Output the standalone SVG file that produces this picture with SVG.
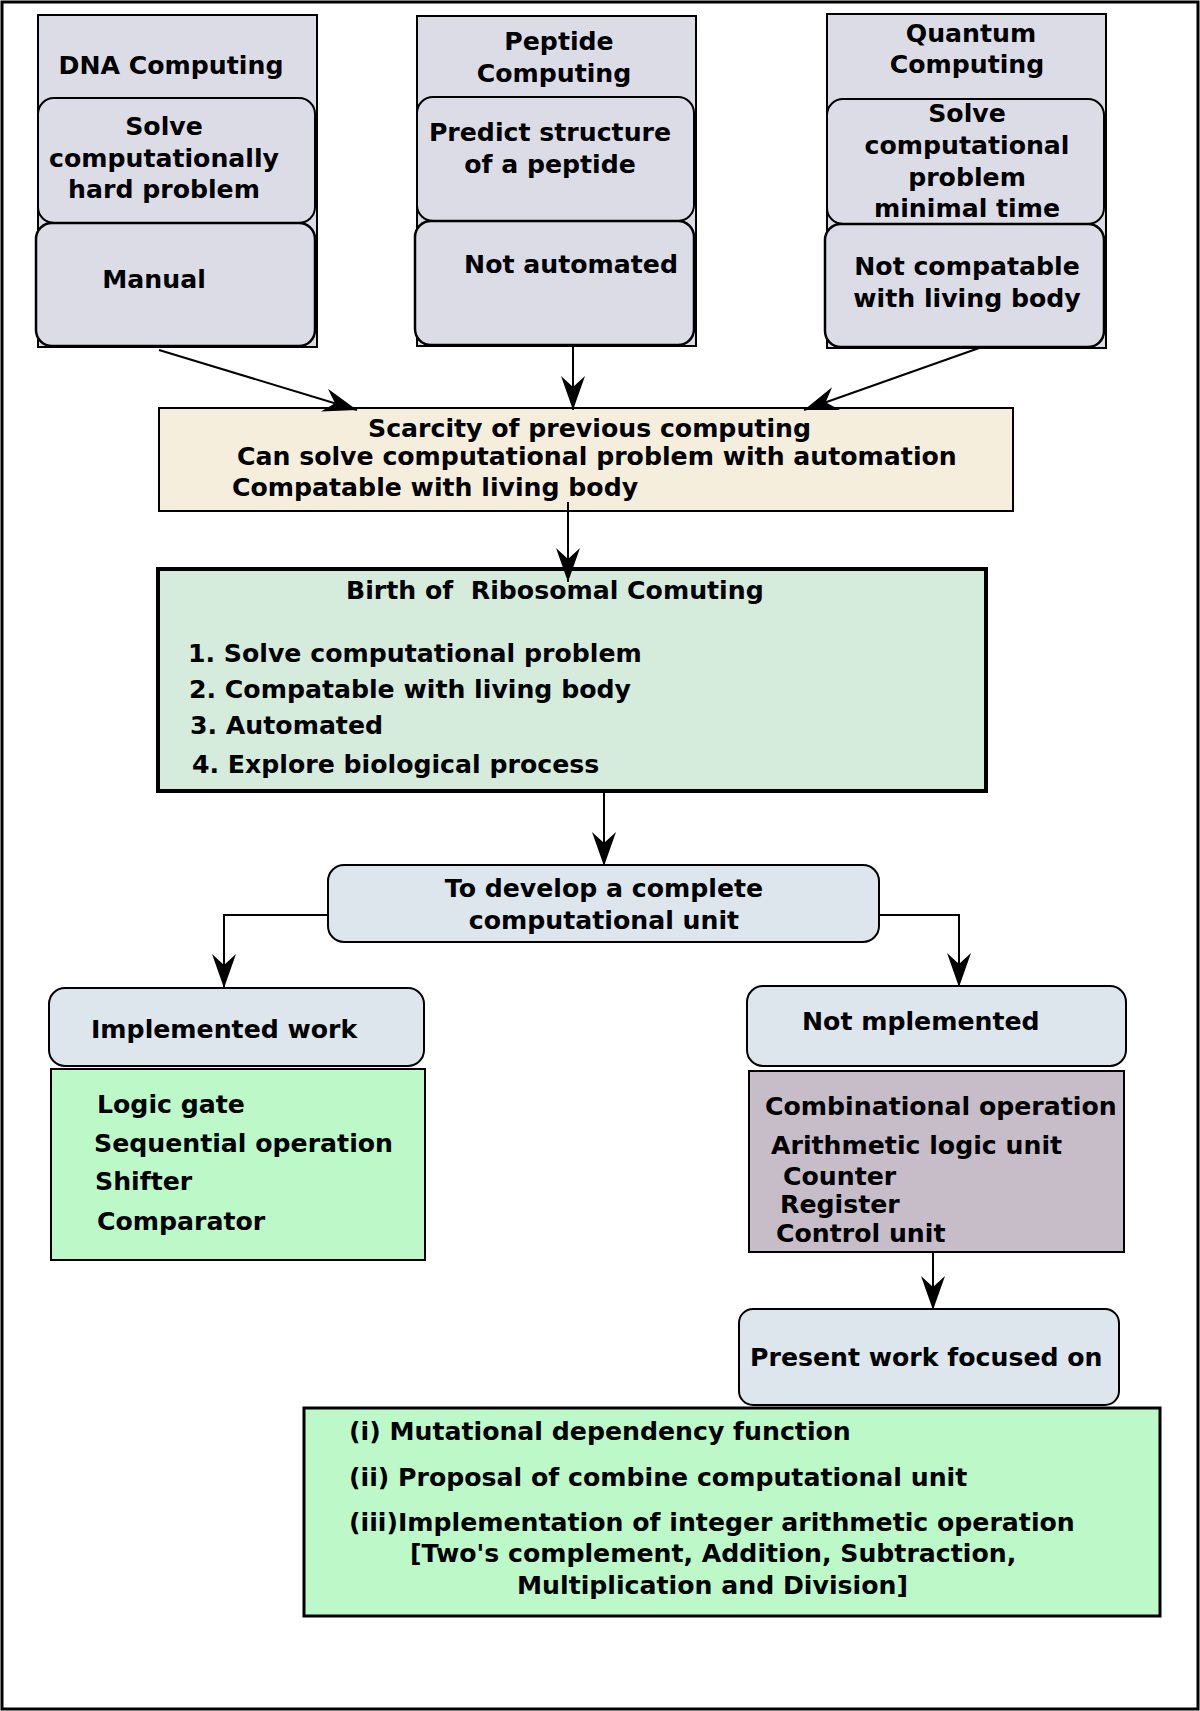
<svg xmlns="http://www.w3.org/2000/svg" width="1200" height="1711" viewBox="0 0 1200 1711">
<style>
text{font-family:"DejaVu Sans","Liberation Sans",sans-serif;font-weight:bold;font-size:25.2px;fill:#000}
.c{text-anchor:middle}
.gray{fill:#dcdce6;stroke:#000;stroke-width:2}
.grayr{fill:#dcdce6;stroke:#000;stroke-width:2.5}
.blue{fill:#dce6ec;stroke:#000;stroke-width:2}
.conn{fill:none;stroke:#000;stroke-width:2;marker-end:url(#ah)}
</style>
<defs>
<marker id="ah" markerUnits="userSpaceOnUse" markerWidth="40" markerHeight="30" refX="34" refY="12" orient="auto" viewBox="0 0 40 24">
<path d="M34,12 L0,0 L11,12 L0,24 Z" fill="#000"/>
</marker>
</defs>
<rect x="2" y="2" width="1196" height="1707" fill="#fff" stroke="#000" stroke-width="3"/>

<g id="dna">
<rect x="38" y="15" width="279" height="332" class="gray"/>
<rect x="38" y="98" width="277" height="125" rx="16" class="gray"/>
<rect x="36" y="223" width="279" height="123" rx="16" class="grayr"/>
<text x="171" y="74" class="c">DNA Computing</text>
<text x="164" y="135" class="c">Solve</text>
<text x="164" y="167" class="c">computationally</text>
<text x="164" y="198" class="c">hard problem</text>
<text x="154" y="288" class="c">Manual</text>
</g>

<g id="peptide">
<rect x="417" y="16" width="279" height="330" class="gray"/>
<rect x="417" y="97" width="277" height="124" rx="16" class="gray"/>
<rect x="415" y="221" width="279" height="124" rx="16" class="grayr"/>
<text x="559" y="50" class="c">Peptide</text>
<text x="554" y="82" class="c">Computing</text>
<text x="550" y="141" class="c">Predict structure</text>
<text x="550" y="173" class="c">of a peptide</text>
<text x="571" y="273" class="c">Not automated</text>
</g>

<g id="quantum">
<rect x="827" y="14" width="279" height="334" class="gray"/>
<rect x="827" y="99" width="277" height="125" rx="16" class="gray"/>
<rect x="825" y="224" width="279" height="123" rx="16" class="grayr"/>
<text x="971" y="42" class="c">Quantum</text>
<text x="967" y="73" class="c">Computing</text>
<text x="967" y="122" class="c">Solve</text>
<text x="967" y="154" class="c">computational</text>
<text x="967" y="186" class="c">problem</text>
<text x="967" y="217" class="c">minimal time</text>
<text x="967" y="275" class="c">Not compatable</text>
<text x="967" y="307" class="c">with living body</text>
</g>

<g id="scarcity">
<rect x="159" y="408" width="854" height="103" fill="#f5eedd" stroke="#000" stroke-width="2"/>
<text x="368" y="437">Scarcity of previous computing</text>
<text x="237" y="465">Can solve computational problem with automation</text>
<text x="232" y="496">Compatable with living body</text>
</g>

<g id="birth">
<rect x="158" y="569" width="828" height="222" fill="#d5ecdc" stroke="#000" stroke-width="4"/>
<text x="346" y="599" xml:space="preserve" style="white-space:pre">Birth of  Ribosomal Comuting</text>
<text x="188" y="662">1. Solve computational problem</text>
<text x="189" y="698">2. Compatable with living body</text>
<text x="190" y="734">3. Automated</text>
<text x="192" y="773">4. Explore biological process</text>
</g>

<g id="develop">
<rect x="328" y="865" width="551" height="77" rx="16" class="blue"/>
<text x="604" y="897" class="c">To develop a complete</text>
<text x="604" y="929" class="c">computational unit</text>
</g>

<g id="implemented">
<rect x="49" y="988" width="375" height="78" rx="16" class="blue"/>
<text x="91" y="1038">Implemented work</text>
</g>

<g id="implemented-list">
<rect x="51" y="1069" width="374" height="191" fill="#bdf8c8" stroke="#000" stroke-width="2"/>
<text x="97" y="1113">Logic gate</text>
<text x="94" y="1152">Sequential operation</text>
<text x="95" y="1190">Shifter</text>
<text x="97" y="1230">Comparator</text>
</g>

<g id="not-implemented">
<rect x="747" y="986" width="379" height="80" rx="16" class="blue"/>
<text x="802" y="1030">Not mplemented</text>
</g>

<g id="not-implemented-list">
<rect x="749" y="1071" width="375" height="181" fill="#c6bdc8" stroke="#000" stroke-width="2"/>
<text x="765" y="1115">Combinational operation</text>
<text x="771" y="1154">Arithmetic logic unit</text>
<text x="783" y="1185">Counter</text>
<text x="780" y="1213">Register</text>
<text x="776" y="1242">Control unit</text>
</g>

<g id="present">
<rect x="739" y="1309" width="380" height="96" rx="14" class="blue"/>
<text x="750" y="1366">Present work focused on</text>
</g>

<g id="focus">
<rect x="304" y="1408" width="856" height="208" fill="#bdf8c8" stroke="#000" stroke-width="3"/>
<text x="349" y="1440">(i) Mutational dependency function</text>
<text x="349" y="1486">(ii) Proposal of combine computational unit</text>
<text x="349" y="1531">(iii)Implementation of integer arithmetic operation</text>
<text x="410" y="1562">[Two's complement, Addition, Subtraction,</text>
<text x="517" y="1594">Multiplication and Division]</text>
</g>

<g id="connectors">
<path d="M159,350 L357,410" class="conn"/>
<path d="M573,347 L573,410" class="conn"/>
<path d="M982,347 L804,410" class="conn"/>
<path d="M568,502 L568,582" class="conn"/>
<path d="M604,793 L604,866" class="conn"/>
<path d="M328,915 L224,915 L224,988" class="conn"/>
<path d="M879,915 L959,915 L959,987" class="conn"/>
<path d="M933,1252 L933,1310" class="conn"/>
</g>
</svg>
